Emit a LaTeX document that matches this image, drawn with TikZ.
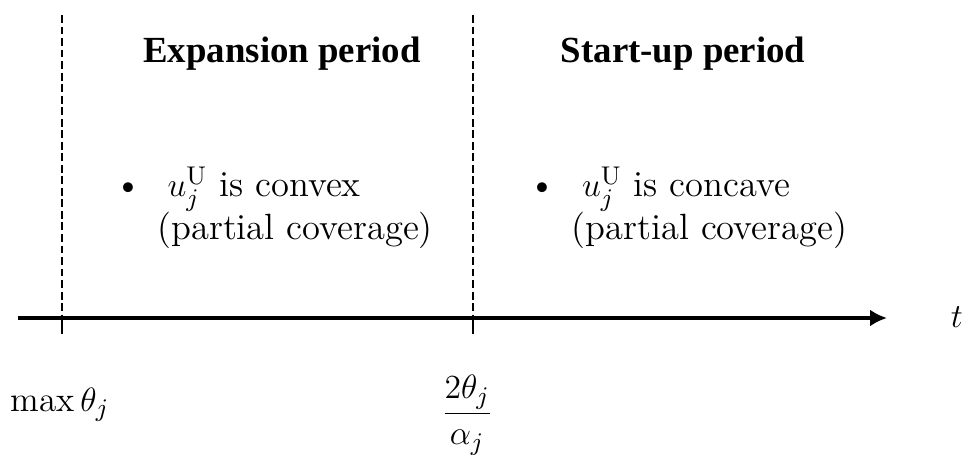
\documentclass[tikz,border=0pt]{standalone}
\usepackage{fontspec}
\newfontfamily\headfont{Liberation Serif}
\usetikzlibrary{arrows.meta}

\tikzset{
  period/.style={font=\headfont\bfseries\fontsize{13.1}{16}\selectfont,inner sep=0pt,anchor=base},
  bodytext/.style={font=\fontsize{12.5}{15}\selectfont,inner sep=0pt,anchor=base west},
  bullettext/.style={bodytext,font=\fontsize{13}{16}\selectfont},
  divider/.style={line width=0.7pt,dash pattern=on 2.8pt off 1.3pt},
}

\begin{document}
\begin{tikzpicture}
\useasboundingbox (0,0) rectangle (12.0375,5.6875);
% time axis
\coordinate (axstart) at (0.225,1.7125);
\coordinate (axend) at (11.0875,1.7125);
\draw[line width=1.2pt,-{Latex[length=6pt,width=6pt]}] (axstart) -- (axend);
\node[bodytext,anchor=base] (t) at (11.96,1.59) {$t$};
% period boundaries
\foreach \name/\x in {lower/0.775,upper/5.9125} {
  \coordinate (\name top) at (\x,5.5);
  \coordinate (\name) at (\x,1.7125);
  \coordinate (\name tick) at (\x,1.51);
  \draw[divider] (\name top) -- (\name);
  \draw[line width=0.9pt] (\name) -- (\name tick);
}
\node[bodytext,anchor=base] (lowerlabel) at (0.75,0.54) {$\max\theta_j$};
\node[bodytext,anchor=base] (upperlabel) at (5.84,0.415) {$\displaystyle\frac{2\theta_j}{\alpha_j}$};
% periods
\node[period] (expansion) at (3.525,4.9) {Expansion period};
\node[period] (startup) at (8.54,4.9) {Start-up period};
\node[bullettext] (convex) at (1.42,3.225) {\textbullet\hspace{0.7em}$u_j^{\mathrm{U}}$ is convex};
\node[bullettext] (convexnote) at (1.96,2.6875) {(partial coverage)};
\node[bullettext] (concave) at (6.6,3.225) {\textbullet\hspace{0.7em}$u_j^{\mathrm{U}}$ is concave};
\node[bullettext] (concavenote) at (7.14,2.6875) {(partial coverage)};
\end{tikzpicture}
\end{document}
